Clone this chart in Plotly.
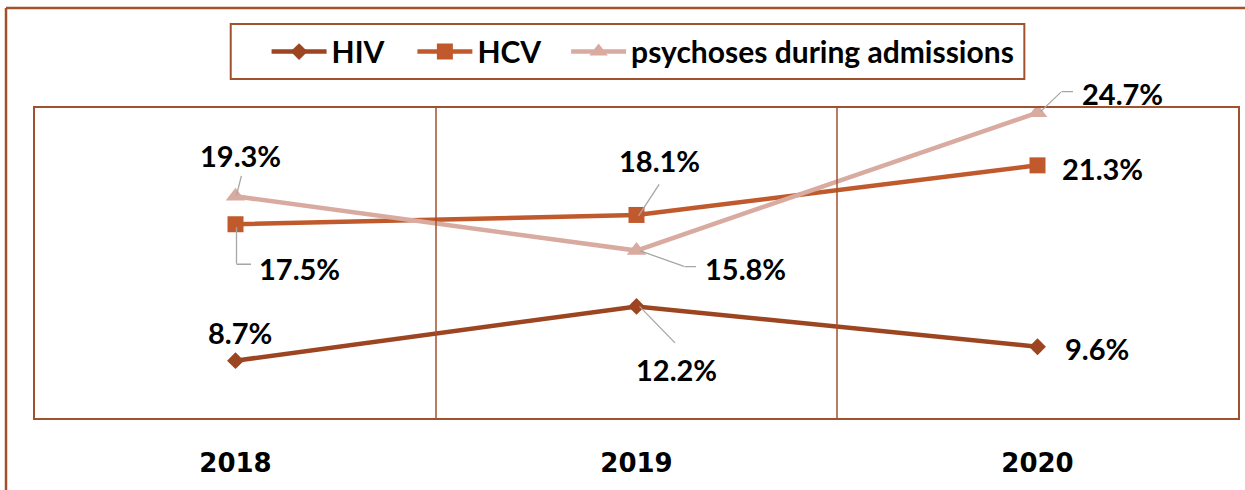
'''
    Line chart: HIV, HCV and psychoses during admissions, 2018-2020.
'''

import plotly.graph_objects as go

years = ['2018', '2019', '2020']
hiv = [8.7, 12.2, 9.6]
hcv = [17.5, 18.1, 21.3]
psychoses = [19.3, 15.8, 24.7]

BROWN = '#A0522D'
series = [
    ('HIV', hiv, '#9C4520', 'diamond', 13),
    ('HCV', hcv, '#C05A2C', 'square', 16),
    ('psychoses during admissions', psychoses, '#D9ABA0', 'triangle-up', 17),
]
legend_x = [0.1925, 0.3137, 0.4415]   # one legend per series, placed side by side

fig = go.Figure()
for k, (name, vals, col, sym, size) in enumerate(series):
    fig.add_trace(go.Scatter(
        x=years, y=vals, name=name, mode='lines+markers',
        line=dict(color=col, width=4.5),
        marker=dict(symbol=sym, size=size, color=col),
        legend='legend' if k == 0 else 'legend%d' % (k + 1)))

# label offsets from the point (px, x right / y down)
label_pos = {
    'HIV': [(4, -28), (40, 63), (59, 2)],
    'HCV': [(64, 44), (23, -54), (65, 3)],
    'psychoses during admissions': [(5, -41), (109, 18), (85, -19)],
}
# leader lines (px offsets from the point, x right / y down), None = no leader
leaders = {
    'HIV': [None, [(3, 0), (39, 37)], None],
    'HCV': [[(1, 3), (1, 40), (16, 40)], [(2, 1), (23, -31)], None],
    'psychoses during admissions': [[(1, -1), (6, -21)],
                                    [(3, 0), (48, 16), (60, 16)],
                                    [(3, -1), (24, -21), (36, -21)]],
}
lab_font = dict(family='Lato', size=29, color='black', weight='bold')
for name, vals, col, sym, size in series:
    for i, v in enumerate(vals):
        dx, dy = label_pos[name][i]
        # category index is used as x so '2018' is not read as a number
        fig.add_annotation(x=i, y=v, text='%.1f%%' % v, showarrow=False,
                           xshift=dx, yshift=-dy, font=lab_font)
        pts = leaders[name][i] or []
        # each leader segment is an empty annotation arrow (not clipped to the plot area)
        for (x0, y0), (x1, y1) in zip(pts[:-1], pts[1:]):
            fig.add_annotation(x=i, y=v, text='', showarrow=True, arrowhead=0,
                               xshift=x0, yshift=-y0, ax=x1 - x0, ay=y1 - y0,
                               standoff=0, borderpad=0, font=dict(size=1),
                               arrowwidth=1.3, arrowcolor='#A6A6A6')

# vertical separators between categories
for i in range(len(years) - 1):
    fig.add_shape(type='line', xref='x', yref='paper', x0=i + 0.5, x1=i + 0.5,
                  y0=0, y1=1, line=dict(color=BROWN, width=1.5))

# outer chart border (top and left edge)
fig.add_shape(type='line', xref='paper', yref='paper', x0=-0.0241, x1=1.01,
              y0=1.3226, y1=1.3226, line=dict(color=BROWN, width=2.5))
fig.add_shape(type='line', xref='paper', yref='paper', x0=-0.0241, x1=-0.0241,
              y0=1.3226, y1=-0.24, line=dict(color=BROWN, width=2.5))
# legend frame
fig.add_shape(type='rect', xref='paper', yref='paper', x0=0.1627, x1=0.8224,
              y0=1.0935, y1=1.271, line=dict(color=BROWN, width=2), fillcolor='white',
              layer='below')

leg = dict(orientation='h', y=1.182, xanchor='left', yanchor='middle',
           borderwidth=0, bgcolor='rgba(0,0,0,0)',
           font=dict(family='Lato', size=30, color='black', weight='bold'),
           itemwidth=55)
fig.update_layout(
    width=1245, height=490,
    margin=dict(l=35, r=5, t=108, b=72),
    plot_bgcolor='white', paper_bgcolor='white',
    showlegend=True,
    legend=dict(leg, x=legend_x[0]),
    legend2=dict(leg, x=legend_x[1]),
    legend3=dict(leg, x=legend_x[2]),
)
fig.update_xaxes(type='category', range=[-0.5, 2.5], showgrid=False,
                 showline=True, mirror=True, linecolor=BROWN, linewidth=2,
                 ticks='', ticklabelstandoff=21,
                 tickfont=dict(family='DejaVu Sans', size=26, color='black', weight='bold'))
fig.update_yaxes(range=[5, 25], showgrid=False, zeroline=False, showticklabels=False,
                 showline=True, mirror=True, linecolor=BROWN, linewidth=2, ticks='')

fig.write_html('out.html', config={'displayModeBar': False},
               post_script="document.body.style.margin='0';")
